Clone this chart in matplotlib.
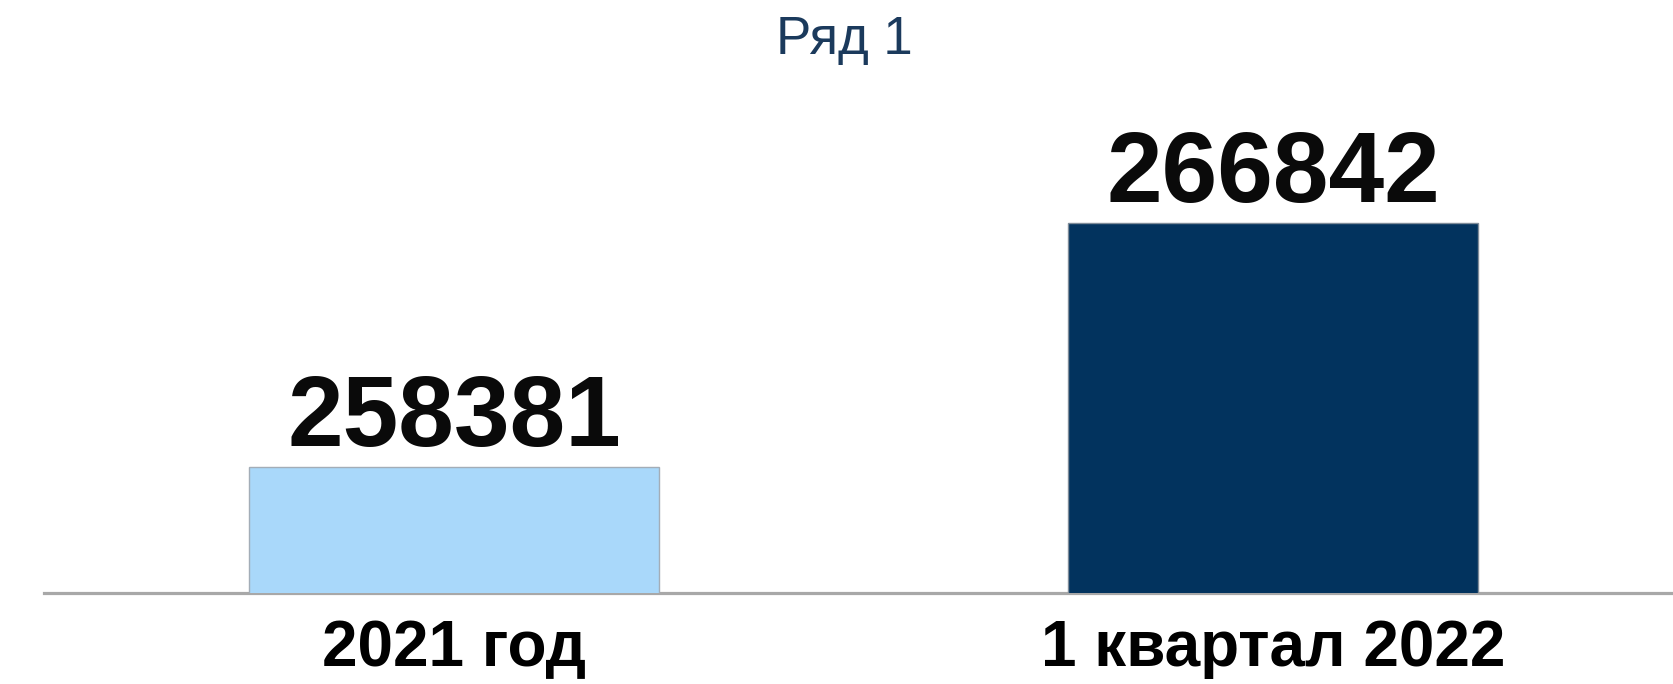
import matplotlib
matplotlib.use("Agg")
import matplotlib.pyplot as plt

categories = ["2021 год", "1 квартал 2022"]
values = [258381, 266842]
series_name = "Ряд 1"
bar_colors = ["#a9d8fa", "#02335e"]

plt.rcParams["font.family"] = ["Liberation Sans", "DejaVu Sans"]

fig = plt.figure(figsize=(16.74, 6.84), dpi=100)
ax = fig.add_axes([44 / 1674, 91 / 684, 1 - 44 / 1674, 493 / 684])

x = list(range(len(categories)))
bars = ax.bar(x, values, width=0.5, color=bar_colors,
              edgecolor=["#a3adb7", "#7f8c99"], linewidth=1.0, zorder=3)

ax.set_xlim(-0.5006, 1.4896)
ax.set_ylim(254000, 271100)

for s in ["top", "left", "right"]:
    ax.spines[s].set_visible(False)
ax.spines["bottom"].set_color("#a8a8a8")
ax.spines["bottom"].set_linewidth(2.3)
ax.spines["bottom"].set_zorder(2)

ax.set_yticks([])
ax.set_xticks(x)
ax.set_xticklabels(categories, fontsize=46, fontweight="bold", color="#000000")
ax.tick_params(axis="x", length=0, pad=19)

ax.bar_label(bars, labels=[str(v) for v in values], padding=0,
             fontsize=72, fontweight="bold", color="#0a0a0a")

fig.text(844 / 1674, 1 - 54 / 684, series_name, fontsize=38, color="#1b3a5c",
         ha="center", va="baseline")

fig.savefig("out.png", dpi=100, facecolor="white")
